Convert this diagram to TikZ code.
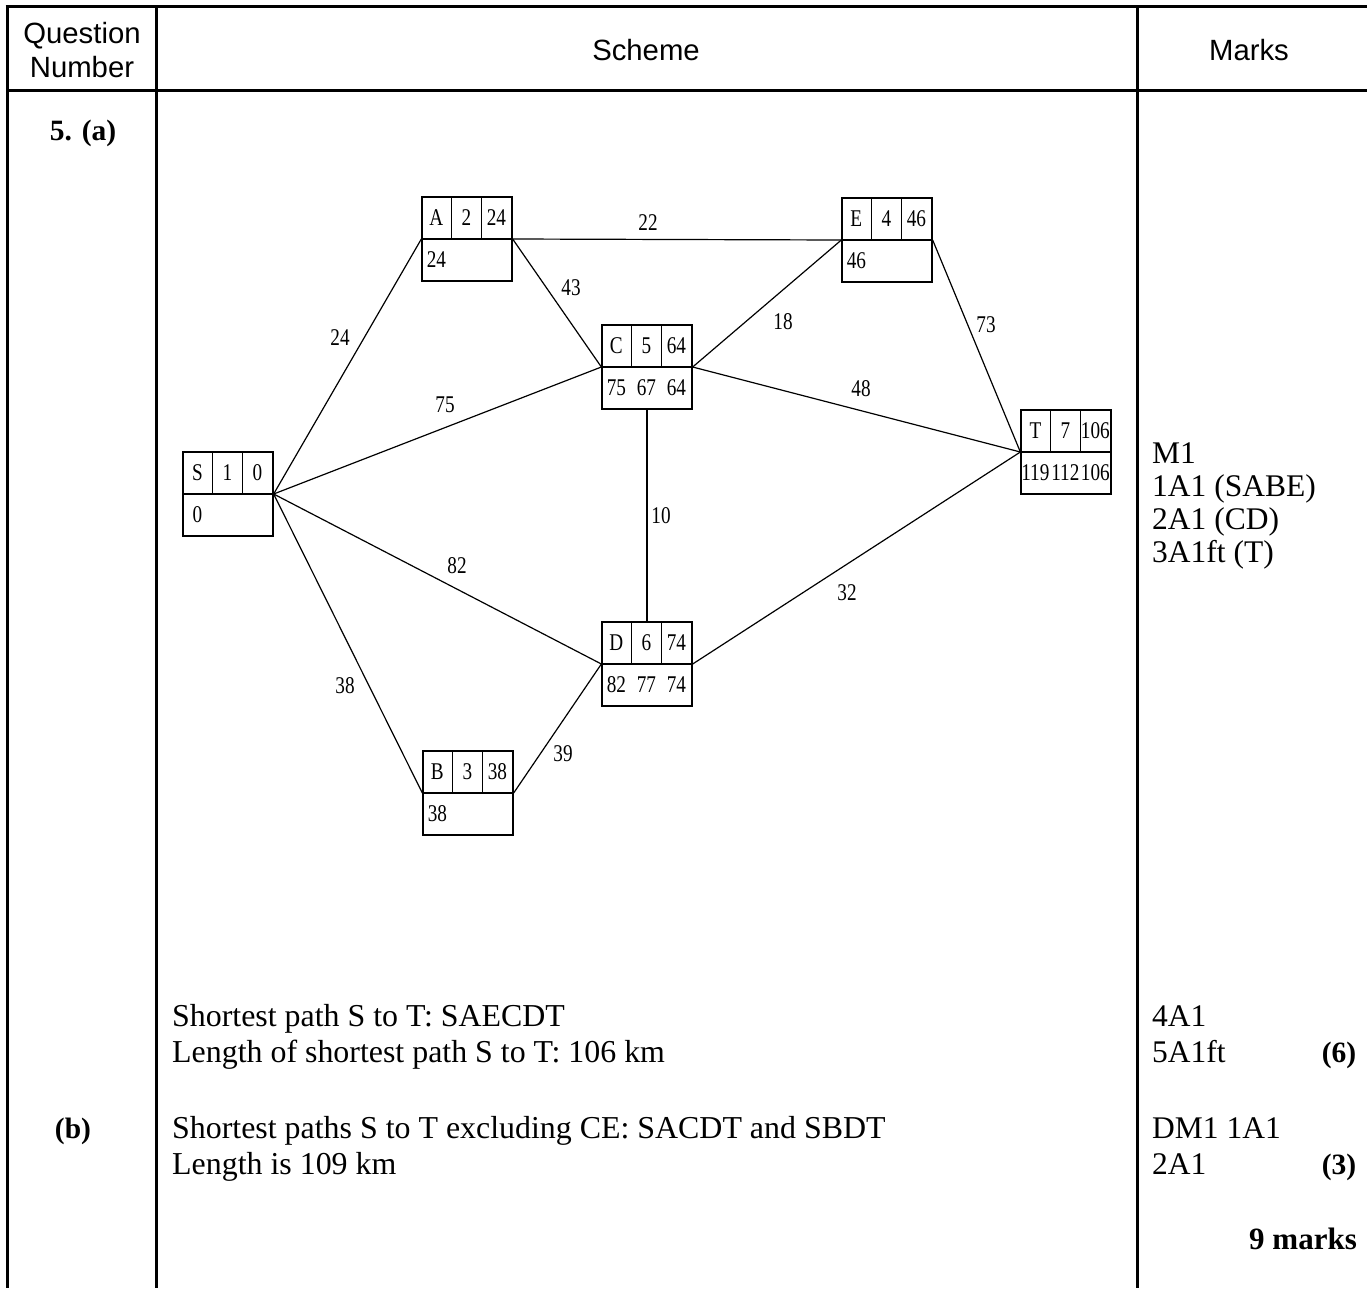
\documentclass[tikz,border=0pt]{standalone}
\usepackage{fontspec}
\setmainfont{Liberation Serif}
\newfontfamily\headfont{Liberation Sans}
\newfontfamily\graphfont[FakeStretch = 0.8]{Liberation Serif}
\usetikzlibrary{positioning}

% labelled vertex box: name, x, y, letter, order, final, three working values
\newcommand{\gbox}[9]{%
  \node[gbox] (#1) at (#2,#3) {};
  \draw[boxline] (#1.west) -- (#1.east);
  \draw[boxline] ([xshift=30pt]#1.north west) -- ([xshift=30pt]#1.west);
  \draw[boxline] ([xshift=60pt]#1.north west) -- ([xshift=60pt]#1.west);
  \node[gtext] (#1-let) at ([xshift=15pt,yshift=-21pt]#1.north west) {#4};
  \node[gtext] (#1-ord) at ([xshift=45pt,yshift=-21pt]#1.north west) {#5};
  \node[gtext] (#1-fin) at ([xshift=75pt,yshift=-21pt]#1.north west) {#6};
  \node[gtext] (#1-wa) at ([xshift=15pt,yshift=-21pt]#1.west) {#7};
  \node[gtext] (#1-wb) at ([xshift=45pt,yshift=-21pt]#1.west) {#8};
  \node[gtext] (#1-wc) at ([xshift=75pt,yshift=-21pt]#1.west) {#9};
}

\begin{document}
\begin{tikzpicture}[x = 1pt, y = -1pt,
  rule/.style = {line width = 3pt},
  gbox/.style = {draw, line width = 1.3pt, minimum width = 90pt, minimum height = 84pt, inner sep = 0pt},
  boxline/.style = {line width = 1.3pt},
  edge/.style = {line width = 1.2pt},
  gtext/.style = {inner sep = 0pt, font = \graphfont\fontsize{24}{24}\selectfont},
  wlabel/.style = {inner sep = 0pt, font = \graphfont\fontsize{24}{24}\selectfont},
  head/.style = {font = \headfont\fontsize{29.3}{34}\selectfont, align = center},
  body/.style = {anchor = base west, inner sep = 0pt, font = \fontsize{31.5}{36}\selectfont},
  scheme/.style = {body, font = \fontsize{31.9}{36}\selectfont},
  bold/.style = {inner sep = 0pt, font = \bfseries\fontsize{29.5}{36}\selectfont}]
\useasboundingbox (0, 0) rectangle (1367, 1288);
% table rules
\draw [rule] (5.5, 6) -- (1367, 6);
\draw [rule] (7, 90) -- (1367, 90);
\draw [rule] (7, 6) -- (7, 1288);
\draw [rule] (156, 6) -- (156, 1288);
\draw [rule] (1137, 6) -- (1137, 1288);
\node [head] (qnum) at (82, 50) {Question\\Number};
\node [head] (schemehead) at (646, 50) {Scheme};
\node [head] (marks) at (1249, 50) {Marks};
\node [bold, anchor = base] (qa) at (83, 140) {5. (a)};
\node [bold, anchor = base] (qb) at (73, 1138) {(b)};
% network
\gbox{S}{228}{494}{S}{1}{0}{0}{}{}
\gbox{A}{467}{239}{A}{2}{24}{24}{}{}
\gbox{E}{887}{240}{E}{4}{46}{46}{}{}
\gbox{C}{647}{367}{C}{5}{64}{75}{67}{64}
\gbox{D}{647}{664}{D}{6}{74}{82}{77}{74}
\gbox{T}{1066}{452}{T}{7}{106}{119}{112}{106}
\gbox{B}{468}{793}{B}{3}{38}{38}{}{}
\draw [edge] (S.east) -- (A.west);
\draw [edge] (S.east) -- (C.west);
\draw [edge] (S.east) -- (D.west);
\draw [edge] (S.east) -- (B.west);
\draw [edge] (A.east) -- (E.west);
\draw [edge] (A.east) -- (C.west);
\draw [edge] (C.east) -- (E.west);
\draw [edge] (C.east) -- (T.west);
\draw [edge] (E.east) -- (T.west);
\draw [edge] (C.south) -- (D.north);
\draw [edge] (D.east) -- (T.west);
\draw [edge] (B.east) -- (D.west);
\node [wlabel] (wSA) at (340, 338) {24};
\node [wlabel] (wSC) at (445, 405) {75};
\node [wlabel] (wSD) at (457, 566) {82};
\node [wlabel] (wSB) at (345, 686) {38};
\node [wlabel] (wAE) at (648, 223) {22};
\node [wlabel] (wAC) at (571, 288) {43};
\node [wlabel] (wCE) at (783, 322) {18};
\node [wlabel] (wET) at (986, 325) {73};
\node [wlabel] (wCT) at (861, 389) {48};
\node [wlabel] (wCD) at (661, 516) {10};
\node [wlabel] (wDT) at (847, 593) {32};
\node [wlabel] (wBD) at (563, 754) {39};
% scheme text
\node [scheme] (pa1) at (172, 1026) {Shortest path S to T: SAECDT};
\node [scheme] (pa2) at (172, 1062) {Length of shortest path S to T: 106 km};
\node [scheme] (pb1) at (172, 1138) {Shortest paths S to T excluding CE: SACDT and SBDT};
\node [scheme] (pb2) at (172, 1174) {Length is 109 km};
% marks
\node [body] (m1) at (1152, 463) {M1};
\node [body] (m2) at (1152, 496) {1A1 (SABE)};
\node [body] (m3) at (1152, 529) {2A1 (CD)};
\node [body] (m4) at (1152, 562) {3A1ft (T)};
\node [body] (m5) at (1152, 1026) {4A1};
\node [body] (m6) at (1152, 1062) {5A1ft};
\node [bold, anchor = base] (ta) at (1339, 1062) {(6)};
\node [body] (m7) at (1152, 1138) {DM1 1A1};
\node [body] (m8) at (1152, 1174) {2A1};
\node [bold, anchor = base] (tb) at (1339, 1174) {(3)};
\node [bold, anchor = base east, font = \bfseries\fontsize{31}{36}\selectfont] (total) at (1357, 1249) {9 marks};
\end{tikzpicture}
\end{document}
